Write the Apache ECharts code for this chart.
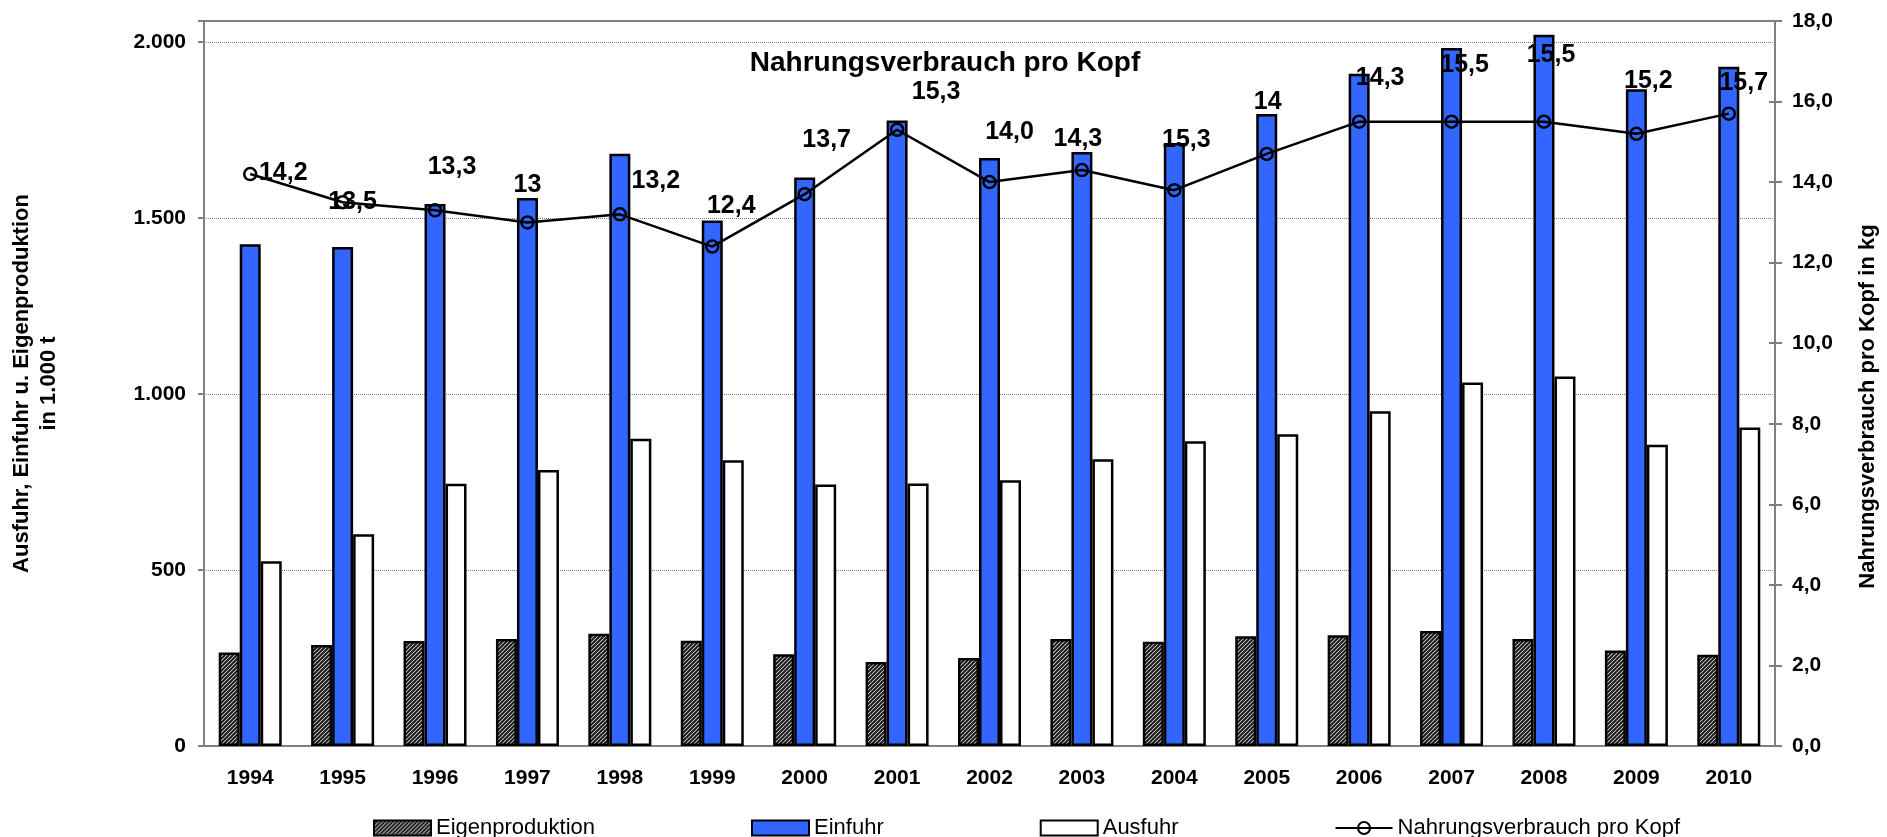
<!DOCTYPE html>
<html>
<head>
<meta charset="utf-8">
<script src="https://cdn.jsdelivr.net/npm/echarts@6/dist/echarts.min.js"></script>
<style>
  html, body { margin: 0; padding: 0; background: #fff; }
  #chart { width: 1887px; height: 837px; }
</style>
</head>
<body>
<div id="chart"></div>
<script>
// Daten
var years = ['1994', '1995', '1996', '1997', '1998', '1999', '2000', '2001', '2002',
             '2003', '2004', '2005', '2006', '2007', '2008', '2009', '2010'];
var eigenproduktion = [266, 287, 298, 304, 319, 299, 261, 239, 250, 304, 296, 312, 315, 327, 304, 271, 259];
var einfuhr = [1426, 1418, 1540, 1557, 1683, 1493, 1615, 1777, 1671, 1688, 1713, 1796, 1910, 1983, 2021, 1866, 1930];
var ausfuhr = [525, 602, 745, 784, 873, 812, 743, 746, 755, 815, 866, 886, 951, 1033, 1050, 856, 905];
var proKopf = [14.2, 13.5, 13.3, 13.0, 13.2, 12.4, 13.7, 15.3, 14.0, 14.3, 13.8, 14.7, 15.5, 15.5, 15.5, 15.2, 15.7];
// Beschriftungen wie im Original (teils abweichend vom Punkt)
var proKopfLabels = ['14,2', '13,5', '13,3', '13', '13,2', '12,4', '13,7', '15,3', '14,0',
                     '14,3', '15,3', '14', '14,3', '15,5', '15,5', '15,2', '15,7'];

// Lage der Beschriftungen relativ zum Punkt (nur Layout)
var labelOffsets = [[33, -1], [10, 0], [17, -43], [0, -37], [36, -33], [19, -40], [22, -54], [39, -38], [20, -50],
                    [-4, -31], [12, -50], [1, -52], [21, -44], [13, -57], [7, -67], [12, -53], [15, -31]];

var FONT = 'Liberation Sans, Arial, sans-serif';

// Schraffur fuer Eigenproduktion
function hatch() {
    var c = document.createElement('canvas');
    c.width = 4; c.height = 4;
    var ctx = c.getContext('2d');
    ctx.fillStyle = '#e6e6e6';
    ctx.fillRect(0, 0, 4, 4);
    ctx.strokeStyle = '#1a1a1a';
    ctx.lineWidth = 2;
    ctx.beginPath();
    ctx.moveTo(0, 4); ctx.lineTo(4, 0);
    ctx.moveTo(-1, 1); ctx.lineTo(1, -1);
    ctx.moveTo(3, 5); ctx.lineTo(5, 3);
    ctx.stroke();
    return { image: c, repeat: 'repeat' };
}

function thousands(v) {
    return String(v).replace(/\B(?=(\d{3})+(?!\d))/g, '.');
}

var chart = echarts.init(document.getElementById('chart'));
chart.setOption({
    animation: false,
    backgroundColor: '#fff',
    title: {
        text: 'Nahrungsverbrauch pro Kopf',
        left: 940,
        textAlign: 'center',
        top: 44,
        textStyle: { fontFamily: FONT, fontSize: 28, fontWeight: 'bold', color: '#000' }
    },
    grid: {
        left: 178, right: 94, top: 21, bottom: 91,
        show: true, borderColor: '#808080', borderWidth: 2
    },
    legend: {
        left: 368,
        top: 812,
        itemGap: 156,
        itemWidth: 57,
        itemHeight: 15,
        textStyle: { fontFamily: FONT, fontSize: 22, color: '#000' },
        data: [
            { name: 'Eigenproduktion', icon: 'rect' },
            { name: 'Einfuhr', icon: 'rect' },
            { name: 'Ausfuhr', icon: 'rect' },
            { name: 'Nahrungsverbrauch pro Kopf' }
        ]
    },
    xAxis: {
        type: 'category',
        data: years,
        axisLine: { lineStyle: { color: '#808080', width: 2 } },
        axisTick: { inside: true, length: 6, lineStyle: { color: '#808080', width: 2 } },
        axisLabel: { margin: 22, fontFamily: FONT, fontSize: 21, fontWeight: 'bold', color: '#000' }
    },
    yAxis: [{
        type: 'value',
        min: 0, max: 2060, interval: 500,
        name: 'Ausfuhr, Einfuhr u. Eigenproduktion\nin 1.000 t',
        nameLocation: 'middle',
        nameGap: 142,
        nameRotate: 90,
        nameTextStyle: { fontFamily: FONT, fontSize: 22, fontWeight: 'bold', color: '#000', lineHeight: 27, align: 'center' },
        axisLine: { show: true, lineStyle: { color: '#808080', width: 2 } },
        axisTick: { show: true, length: 6, lineStyle: { color: '#808080', width: 2 } },
        axisLabel: {
            margin: 18, fontFamily: FONT, fontSize: 21, fontWeight: 'bold', color: '#000',
            formatter: function (v) { return v % 500 ? '' : thousands(v); }
        },
        splitLine: { show: true, lineStyle: { color: '#7a7a7a', type: 'dotted', width: 1 } }
    }, {
        type: 'value',
        position: 'right',
        min: 0, max: 18, interval: 2,
        name: 'Nahrungsverbrauch pro Kopf in kg',
        nameLocation: 'middle',
        nameGap: 82,
        nameRotate: 90,
        nameTextStyle: { fontFamily: FONT, fontSize: 22, fontWeight: 'bold', color: '#000', padding: [0, 46, 0, 0] },
        axisLine: { show: true, lineStyle: { color: '#808080', width: 2 } },
        axisTick: { show: true, length: 7, lineStyle: { color: '#808080', width: 2 } },
        axisLabel: {
            margin: 17, fontFamily: FONT, fontSize: 21, fontWeight: 'bold', color: '#000',
            formatter: function (v) { return v.toFixed(1).replace('.', ','); }
        },
        splitLine: { show: false }
    }, {
        // nur fuer die nach innen zeigenden Striche rechts
        type: 'value',
        position: 'right',
        min: 0, max: 18, interval: 2,
        axisLine: { show: false },
        axisTick: { show: true, inside: true, length: 6, lineStyle: { color: '#808080', width: 2 } },
        axisLabel: { show: false },
        splitLine: { show: false }
    }],
    series: [{
        name: 'Eigenproduktion',
        type: 'bar',
        barWidth: 21,
        barGap: '0%',
        itemStyle: { color: hatch(), borderColor: '#000', borderWidth: 2.5 },
        data: eigenproduktion
    }, {
        name: 'Einfuhr',
        type: 'bar',
        barWidth: 21,
        barGap: '0%',
        itemStyle: { color: '#3366ff', borderColor: '#000', borderWidth: 2.5 },
        data: einfuhr
    }, {
        name: 'Ausfuhr',
        type: 'bar',
        barWidth: 21,
        barGap: '0%',
        itemStyle: { color: '#fff', borderColor: '#000', borderWidth: 2.5 },
        data: ausfuhr
    }, {
        name: 'Nahrungsverbrauch pro Kopf',
        type: 'line',
        yAxisIndex: 1,
        symbol: 'circle',
        symbolSize: 12,
        z: 5,
        lineStyle: { color: '#000', width: 2.5 },
        itemStyle: { color: 'rgba(0,0,0,0)', borderColor: '#000', borderWidth: 2.5 },
        label: {
            show: true,
            position: 'inside',
            align: 'center',
            verticalAlign: 'middle',
            fontFamily: FONT, fontSize: 25, fontWeight: 'bold', color: '#000',
            formatter: function (p) { return proKopfLabels[p.dataIndex]; }
        },
        data: proKopf.map(function (v, i) {
            return { value: v, label: { offset: labelOffsets[i] } };
        })
    }]
});
</script>
</body>
</html>
